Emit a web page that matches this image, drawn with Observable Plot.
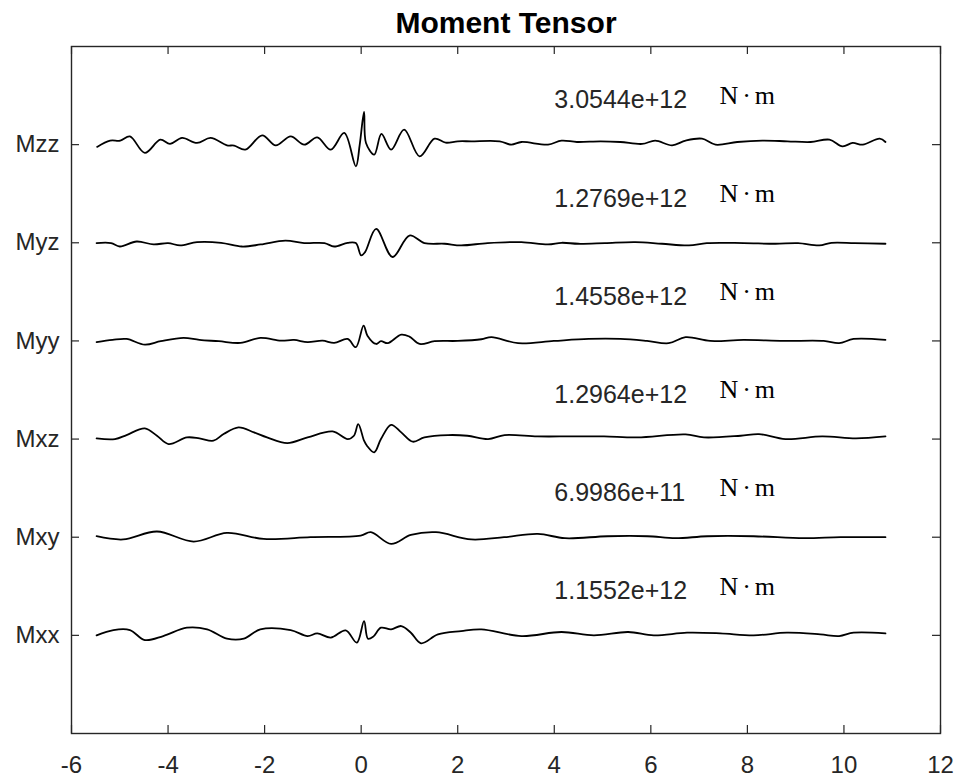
<!DOCTYPE html>
<html>
<head>
<meta charset="utf-8">
<script src="https://cdn.jsdelivr.net/npm/d3@7"></script>
<script src="https://cdn.jsdelivr.net/npm/@observablehq/plot@0.6"></script>
<style>
  body { margin: 0; background: #fff; }
  svg g[font-family*="Serif"] text { letter-spacing: 4px; }
</style>
</head>
<body>
<div id="chart"></div>
<script>
// Moment tensor components, stacked bottom (1) to top (6)
const components = ["Mxx", "Mxy", "Mxz", "Myy", "Myz", "Mzz"];
// Scalar moment of each component, N·m
const moments = [1.1552e12, 6.9986e11, 1.2964e12, 1.4558e12, 1.2769e12, 3.0544e12];
const xTicks = [-6, -4, -2, 0, 2, 4, 6, 8, 10, 12];
const yTicks = [1, 2, 3, 4, 5, 6];

// Normalised waveforms: time (s) and amplitude (in row units, up positive)
const mxxT = [-5.48,-5.13,-4.79,-4.48,-4.10,-3.61,-3.19,-2.78,-2.43,-2.09,-1.46,-1.11,-0.91,-0.63,-0.32,-0.09,0.06,0.14,0.25,0.41,0.62,0.83,1.03,1.24,1.59,2.07,2.49,3.32,4.15,4.82,5.53,6.06,6.75,7.44,8.13,8.82,9.51,9.90,10.20,10.86];
const mxxA = [0,0.054,0.054,-0.048,-0.007,0.078,0.061,-0.034,-0.034,0.061,0.054,-0.007,0.02,-0.023,0.051,-0.074,0.145,-0.034,-0.013,0.078,0.061,0.095,0.027,-0.081,0.01,0.044,0.061,-0.007,0.034,0,0.034,0,0.027,0.02,0,0.027,0.01,-0.007,0.027,0.02];

const mxyT = [-5.48,-4.93,-4.23,-3.47,-2.78,-2.02,-1.05,-0.01,0.20,0.62,1.03,1.55,2.28,2.96,3.66,4.22,5.10,5.93,6.51,7.17,8.13,9.17,9.93,10.86];
const mxyA = [0.01,-0.023,0.058,-0.044,0.044,-0.017,0,0.017,0.051,-0.068,0.023,0.051,-0.023,0,0.034,-0.01,0.01,0.01,-0.01,0.01,0.01,-0.01,0,0];

const mxzT = [-5.48,-5.10,-4.86,-4.48,-4.23,-3.99,-3.61,-3.35,-3.06,-2.85,-2.54,-2.22,-1.95,-1.53,-1.11,-0.59,-0.28,-0.15,-0.06,0.06,0.12,0.27,0.41,0.62,0.83,1.07,1.31,1.80,2.20,2.63,2.97,3.65,4.34,5.03,5.72,6.72,7.10,7.86,8.24,8.79,9.55,10.25,10.86];
const mxzA = [0.007,0,0.041,0.109,0.034,-0.051,0.017,0.007,-0.017,0.051,0.119,0.068,0.017,-0.041,0.017,0.078,0,0.034,0.153,-0.017,-0.068,-0.135,0,0.145,0.068,-0.027,0.017,0.041,0.034,0,0.041,0.027,0.027,0.027,0.017,0.048,0.017,0.034,0.051,0,0.027,0.007,0.027];

const myyT = [-5.48,-5.15,-4.86,-4.48,-4.15,-3.68,-3.35,-2.95,-2.50,-2.09,-1.66,-1.39,-1.11,-0.80,-0.56,-0.28,-0.11,0.05,0.13,0.31,0.41,0.55,0.83,1.00,1.21,1.52,2.00,2.49,2.70,3.25,3.99,4.71,5.37,5.92,6.37,6.72,7.23,7.92,8.75,9.58,9.90,10.20,10.86];
const myyA = [-0.013,0.01,0.02,-0.038,-0.003,0.031,0.01,-0.003,-0.02,0.031,0.003,0.01,-0.013,0.003,-0.02,0.02,-0.064,0.156,0.054,-0.031,-0.003,-0.023,0.064,0.044,-0.031,-0.003,0,0.017,0.038,-0.023,0,0.02,0.02,0,-0.023,0.038,0,0.01,0,0,-0.023,0.02,0.01];

const myzT = [-5.48,-5.18,-5.00,-4.65,-4.30,-4.00,-3.75,-3.40,-2.90,-2.47,-2.08,-1.57,-1.18,-0.76,-0.56,-0.28,-0.11,0.00,0.08,0.31,0.65,1.00,1.31,1.73,2.07,2.62,3.32,3.87,4.15,4.50,5.05,5.68,6.23,6.79,7.16,7.92,8.58,9.05,9.49,9.74,10.22,10.86];
const myzA = [-0.003,-0.003,-0.038,0.013,-0.017,-0.003,-0.027,0.007,0,-0.038,-0.017,0.023,-0.003,-0.003,-0.038,0,-0.003,-0.129,-0.095,0.142,-0.145,0.074,-0.003,-0.01,-0.027,-0.003,0.007,-0.017,0,-0.01,-0.003,0.007,-0.01,-0.027,-0.003,-0.003,-0.01,-0.003,-0.027,0,-0.003,-0.01];

const mzzT = [-5.47,-5.20,-4.99,-4.79,-4.48,-4.16,-3.96,-3.71,-3.40,-3.12,-2.78,-2.63,-2.40,-2.05,-1.77,-1.46,-1.18,-0.91,-0.63,-0.35,-0.11,-0.03,0.06,0.10,0.27,0.42,0.62,0.89,1.21,1.52,1.75,2.00,2.28,2.87,3.11,3.32,3.87,4.15,4.47,4.96,5.37,5.82,6.09,6.44,6.72,7.06,7.34,7.79,8.31,8.83,9.31,9.70,9.97,10.18,10.39,10.74,10.86];
const mzzA = [-0.023,0.041,0.041,0.084,-0.084,0.051,0.007,0.068,0.017,0.068,-0.007,-0.01,-0.051,0.095,-0.007,0.084,0,0.074,-0.051,0.119,-0.221,0,0.333,0.017,-0.102,0.109,-0.051,0.153,-0.119,0.061,0.02,0.034,0.034,0.034,0,0.027,0,0.041,0.027,0.034,0.027,0.007,0.041,-0.007,0.041,0.061,0,0.027,0.041,0.034,0.027,0.051,-0.017,0.017,0,0.061,0.027];

const series = [
  [mxxT, mxxA], [mxyT, mxyA], [mxzT, mxzA],
  [myyT, myyA], [myzT, myzA], [mzzT, mzzA]
];

// Placement of the moment annotations (time axis and offset above each trace)
const valueTime = 4;
const unitTime = 7.42;
const labelLift = 0.45;

const traces = series.flatMap(([ts, as], i) =>
  ts.map((t, k) => ({component: components[i], t, y: i + 1 + as[k]}))
);
const labels = components.map((c, i) => ({component: c, row: i + 1, moment: moments[i]}));

const axisColor = "#262626";
const sans = "'Liberation Sans', Arial, Helvetica, sans-serif";
const serif = "'Liberation Serif', 'Times New Roman', serif";

const width = 960, height = 783;
const margin = {top: 46, right: 20, bottom: 50, left: 71};
const frameW = width - margin.left - margin.right;
const frameH = height - margin.top - margin.bottom;
const tickLen = 8;

const chart = Plot.plot({
  width, height,
  marginTop: margin.top, marginRight: margin.right,
  marginBottom: margin.bottom, marginLeft: margin.left,
  style: {fontFamily: sans, fontSize: "24px", color: axisColor, background: "#fff"},
  x: {domain: [-6, 12]},
  y: {domain: [0, 7]},
  marks: [
    Plot.axisX({ticks: xTicks, tickSize: 0, tickPadding: 22, label: null, fill: axisColor,
      tickFormat: d => String(d)}),
    Plot.axisY({ticks: yTicks, tickSize: 0, tickPadding: 12, label: null, fill: axisColor,
      tickFormat: d => components[d - 1]}),
    // inward ticks on all four sides
    Plot.tickX(xTicks, {x: d => d, insetTop: frameH - tickLen, stroke: axisColor, strokeWidth: 1.2}),
    Plot.tickX(xTicks, {x: d => d, insetBottom: frameH - tickLen, stroke: axisColor, strokeWidth: 1.2}),
    Plot.tickY(yTicks, {y: d => d, insetRight: frameW - tickLen, stroke: axisColor, strokeWidth: 1.2}),
    Plot.tickY(yTicks, {y: d => d, insetLeft: frameW - tickLen, stroke: axisColor, strokeWidth: 1.2}),
    Plot.frame({stroke: axisColor, strokeWidth: 1.4}),
    Plot.line(traces, {x: "t", y: "y", z: "component", stroke: "#000", strokeWidth: 1.8, curve: "catmull-rom"}),
    Plot.text(labels, {x: valueTime, y: d => d.row + labelLift, text: d => d.moment.toExponential(4),
      textAnchor: "start", lineAnchor: "middle", fontSize: 25, fill: axisColor}),
    Plot.text(labels, {x: unitTime, y: d => d.row + labelLift + 0.05, text: () => "N·m",
      textAnchor: "start", lineAnchor: "middle", fontSize: 26, fontFamily: serif, fill: "#000"}),
    Plot.text(["Moment Tensor"], {frameAnchor: "top", dy: -23, lineAnchor: "middle",
      fontSize: 30, fontWeight: "bold", fill: "#000"})
  ]
});

document.getElementById("chart").append(chart);
</script>
</body>
</html>
